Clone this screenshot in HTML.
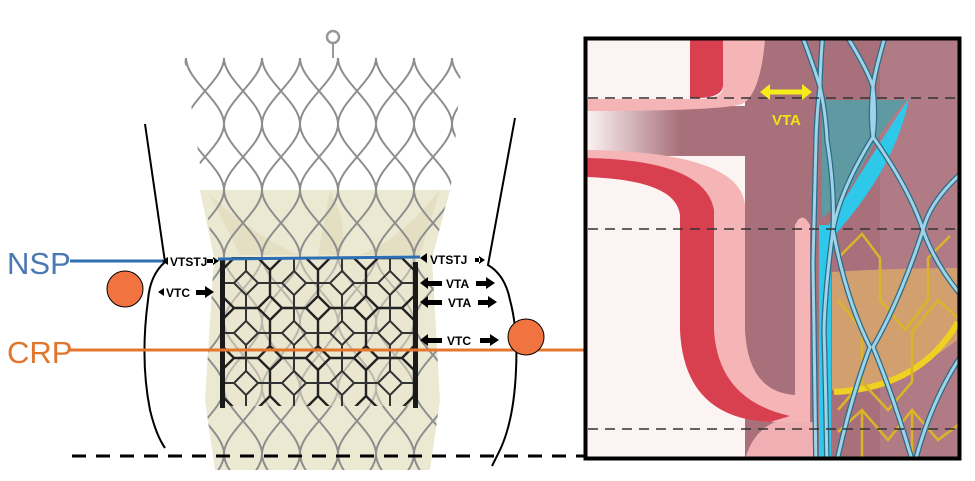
<!DOCTYPE html>
<html><head><meta charset="utf-8"><style>
html,body{margin:0;padding:0;background:#fff;width:975px;height:481px;overflow:hidden}
svg{display:block}
</style></head><body>
<svg width="975" height="481" viewBox="0 0 975 481" xmlns="http://www.w3.org/2000/svg" font-family="Liberation Sans, sans-serif">
<defs>
<pattern id="dia" x="186" y="58" width="38" height="66" patternUnits="userSpaceOnUse">
<path d="M0 0 C0 22 38 44 38 66 M38 0 C38 22 0 44 0 66" fill="none" stroke="#8d8d8d" stroke-width="2"/>
</pattern>
<pattern id="hex" x="222" y="258" width="48" height="50" patternUnits="userSpaceOnUse">
<path d="M0 12 L12 0 L36 0 L48 12 L48 38 L36 50 L12 50 L0 38 Z" fill="none" stroke="#222" stroke-width="2.4"/>
</pattern>
<pattern id="hex2" x="246" y="283" width="48" height="50" patternUnits="userSpaceOnUse">
<path d="M0 12 L12 0 L36 0 L48 12 L48 38 L36 50 L12 50 L0 38 Z" fill="none" stroke="#333" stroke-width="2"/>
</pattern>
<clipPath id="stentClip"><path d="M184 58 L462 58 L452 180 L432 258 L440 400 L430 470 L215 470 L205 400 L214 258 Z"/></clipPath>
<clipPath id="frameClip"><rect x="222" y="257" width="195" height="149"/></clipPath>
<clipPath id="panelClip"><rect x="587" y="40" width="371" height="417"/></clipPath>
<linearGradient id="fade" x1="0" x2="1"><stop offset="0" stop-color="#fbf3f3"/><stop offset="0.55" stop-color="#a8707a"/></linearGradient>
</defs>

<!-- left stent -->
<path d="M200 190 L450 190 L432 258 L440 400 L430 470 L215 470 L205 400 L214 258 Z" fill="#ece9d3"/>
<path d="M210 195 Q260 240 300 255 L240 255 Z M330 190 Q350 230 340 255 L318 255 Z M440 190 Q400 240 360 255 L420 255 Z" fill="#e4dfc2"/>
<rect x="150" y="40" width="330" height="440" fill="url(#dia)" clip-path="url(#stentClip)"/>
<circle cx="333" cy="37" r="6" fill="none" stroke="#999" stroke-width="2.5"/>
<line x1="333" y1="43" x2="333" y2="58" stroke="#999" stroke-width="2"/>
<rect x="222" y="257" width="195" height="149" fill="#e8e4cc" opacity="0.5"/>
<rect x="222" y="257" width="195" height="149" fill="url(#hex)" clip-path="url(#frameClip)"/>
<rect x="222" y="257" width="195" height="149" fill="url(#hex2)" clip-path="url(#frameClip)"/>
<rect x="220" y="258" width="5" height="150" fill="#1a1a1a"/>
<rect x="413" y="262" width="5" height="146" fill="#1a1a1a"/>

<!-- annulus curves -->
<path d="M145 124 L165 262 Q150 275 148 300 Q140 360 150 410 Q156 435 165 448" fill="none" stroke="#000" stroke-width="2"/>
<path d="M515 118 L488 265 Q505 275 510 300 Q518 330 516 370 Q514 420 500 450 L492 466" fill="none" stroke="#000" stroke-width="2"/>

<!-- lines -->
<line x1="70" y1="261" x2="163" y2="261" stroke="#2e6fb3" stroke-width="3"/>
<line x1="218" y1="259" x2="420" y2="257" stroke="#2e6fb3" stroke-width="3"/>
<text x="7" y="274" font-size="31" fill="#4a78b2">NSP</text>
<line x1="70" y1="350" x2="586" y2="350" stroke="#e4762d" stroke-width="3"/>
<text x="7" y="363" font-size="31" fill="#e0762e">CRP</text>
<line x1="72" y1="456" x2="584" y2="456" stroke="#000" stroke-width="3" stroke-dasharray="14,10"/>
<circle cx="125" cy="289" r="18" fill="#f07340" stroke="#000" stroke-width="1"/>
<circle cx="526" cy="337" r="18" fill="#f07340" stroke="#000" stroke-width="1"/>

<!-- small labels -->
<g font-size="12" font-weight="bold" fill="#000">
<text x="170" y="266">VTSTJ</text>
<text x="166" y="297">VTC</text>
<text x="430" y="264">VTSTJ</text>
<text x="446" y="288">VTA</text>
<text x="448" y="307">VTA</text>
<text x="447" y="345">VTC</text>
</g>
<g fill="#000">
<path d="M162 261 l6 -4 v8 Z"/><path d="M219 261 l-6 -4 v8 Z M207 259 h7 v4 h-7z"/>
<path d="M158 292 l6 -4 v8 Z"/><path d="M196 290 h10 v5 h-10z M205 286 l9 6 -9 6z"/>
<path d="M420 258 l7 -5 v10 Z"/><path d="M485 260 l-6 -4 v8 Z M475 258 h5 v4 h-5z"/>
<path d="M420 283 l8 -6 v12 Z M428 281 h14 v5 h-14z"/><path d="M476 281 h12 v5 h-12z M486 277 l9 6 -9 6z"/>
<path d="M420 302 l8 -6 v12 Z M428 300 h14 v5 h-14z"/><path d="M478 300 h12 v5 h-12z M488 296 l9 6 -9 6z"/>
<path d="M420 340 l8 -6 v12 Z M428 338 h14 v5 h-14z"/><path d="M480 338 h12 v5 h-12z M490 334 l9 6 -9 6z"/>
</g>

<!-- right panel -->
<g clip-path="url(#panelClip)">
<rect x="584" y="37" width="377" height="423" fill="#fbf4f3"/>
<rect x="745" y="37" width="216" height="423" fill="#a8707a"/>
<rect x="880" y="37" width="81" height="423" fill="#b5828b" opacity="0.6"/>
<rect x="587" y="106" width="170" height="50" fill="url(#fade)"/>
<path d="M765 40 Q760 95 742 104 Q720 111 587 111 L587 99 L700 99 Q723 98 723 88 L723 40 Z" fill="#f5b4b6"/>
<path d="M690 40 L723 40 L723 86 Q722 97 700 98 L690 98 Z" fill="#d84050"/>
<path d="M587 150 Q740 152 745 205 L745 330 Q748 392 795 395 L795 225 Q802 210 810 225 L810 422 L770 422 Q684 418 680 330 L680 215 Q676 180 587 177 Z" fill="#f5b4b6"/>
<path d="M587 158 Q705 160 714 210 L714 330 Q718 400 790 416 L770 422 Q684 418 680 330 L680 215 Q676 180 587 177 Z" fill="#d84050"/>
<path d="M745 460 Q752 432 775 422 L815 422 L815 460 Z" fill="#f0b0b3"/>
<path d="M822 100 L906 100 Q880 130 860 170 Q845 200 822 218 Z" fill="#5f9aa3"/>
<path d="M909 98 Q895 170 830 240 L822 236 Q862 170 909 98 Z" fill="#2ec8ea"/>
<path d="M819 225 L831 225 L831 460 L819 460 Z" fill="#2ec8ea"/>
<path d="M832 272 Q900 268 957 268 L957 340 Q900 385 840 390 L832 390 Z" fill="#d2a06f"/>
<path d="M834 392 Q920 388 958 322" fill="none" stroke="#f0d020" stroke-width="6"/>
<g fill="none" stroke="#d9b527" stroke-width="2.5">
<path d="M838 258 L862 234 L880 258 L880 300 L905 330 L928 300 L928 258 L950 236"/>
<path d="M838 300 L862 330 L862 382 L838 410 M862 382 L888 410 L912 382 L912 332 L938 300 L958 318"/>
<path d="M838 432 L862 410 L888 440 L912 410 L938 440 L958 425 M862 410 L862 460 M912 410 L912 460"/>
</g>
<g fill="none" stroke-linejoin="round">
<g stroke="#2d6b86" stroke-width="5.5">
<path d="M800 30 Q815 70 820 87 Q817 110 816 140 L813 263 L816 470"/>
<path d="M823 30 Q820 70 820 87 Q826 115 827 140 Q835 190 833 230 Q825 290 824 330 Q826 400 827 470"/>
<path d="M843 30 Q868 70 873 87 Q876 115 873 137 Q840 190 833 230 Q846 300 870 347 Q850 400 835 470"/>
<path d="M887 30 Q875 70 873 87 Q870 115 873 137 Q910 190 923 230 Q900 300 873 347 Q895 400 915 470"/>
<path d="M965 170 Q930 200 923 230 Q935 265 965 300"/>
<path d="M965 350 Q930 400 913 470"/>
</g>
<g stroke="#9fd3e8" stroke-width="3">
<path d="M800 30 Q815 70 820 87 Q817 110 816 140 L813 263 L816 470"/>
<path d="M823 30 Q820 70 820 87 Q826 115 827 140 Q835 190 833 230 Q825 290 824 330 Q826 400 827 470"/>
<path d="M843 30 Q868 70 873 87 Q876 115 873 137 Q840 190 833 230 Q846 300 870 347 Q850 400 835 470"/>
<path d="M887 30 Q875 70 873 87 Q870 115 873 137 Q910 190 923 230 Q900 300 873 347 Q895 400 915 470"/>
<path d="M965 170 Q930 200 923 230 Q935 265 965 300"/>
<path d="M965 350 Q930 400 913 470"/>
</g>
</g>
<g stroke="#333" stroke-width="1.5" stroke-dasharray="10,7">
<line x1="588" y1="98" x2="958" y2="98"/>
<line x1="588" y1="229" x2="958" y2="229"/>
<line x1="588" y1="429" x2="958" y2="429"/>
</g>
<line x1="766" y1="92" x2="806" y2="92" stroke="#f5ec1a" stroke-width="5"/>
<path d="M760 92 l10 -8 v16 Z M812 92 l-10 -8 v16 Z" fill="#f5ec1a"/>
<text x="772" y="125" font-size="15" font-weight="bold" fill="#f0e21a">VTA</text>
</g>
<rect x="585.5" y="38.5" width="374" height="420" fill="none" stroke="#000" stroke-width="4"/>
</svg>
</body></html>
